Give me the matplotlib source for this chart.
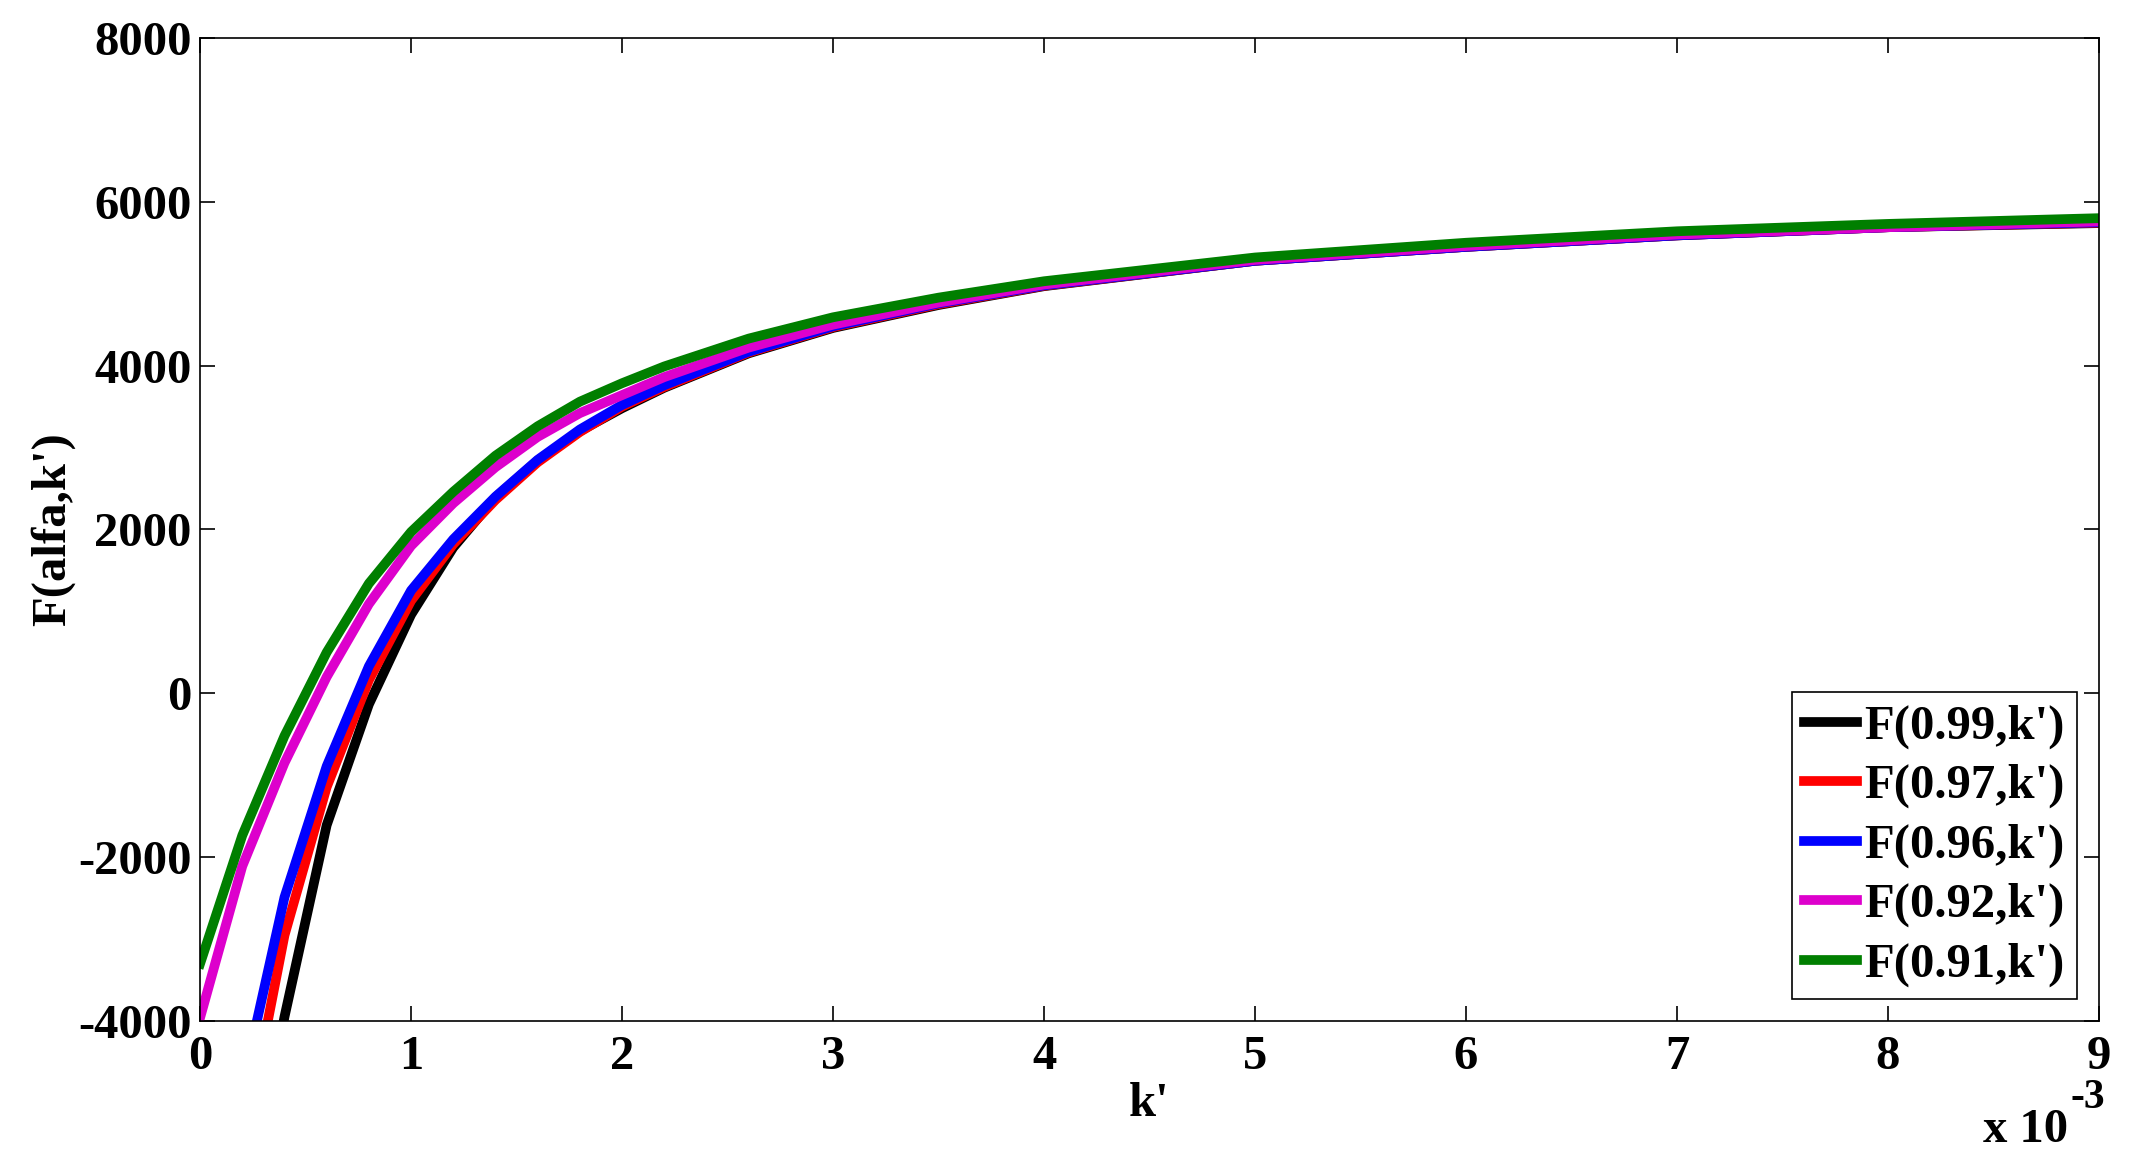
## F(alfa, k') curves for several alfa values ##

import matplotlib
matplotlib.use("Agg")
from matplotlib import pyplot as plt
from matplotlib.ticker import FuncFormatter, MultipleLocator

plt.rcParams["font.family"] = ["Liberation Serif", "DejaVu Serif"]
plt.rcParams["font.weight"] = "bold"
plt.rcParams["axes.unicode_minus"] = False

# k' values (in units of 1e-3)
k_milli = [0, 0.2, 0.4, 0.6, 0.8, 1.0, 1.2, 1.4, 1.6, 1.8, 2.0, 2.2,
           2.6, 3.0, 3.5, 4.0, 5.0, 6.0, 7.0, 8.0, 9.0]
k_vals = [k * 1e-3 for k in k_milli]

f_099 = [-10000, -6700, -3950, -1610, -135, 960, 1780, 2390, 2840, 3200,
         3480, 3730, 4150, 4460, 4740, 4970, 5280, 5450, 5590, 5690, 5740]
f_097 = [-8000, -5600, -2955, -1145, 160, 1130, 1820, 2360, 2820, 3190,
         3500, 3740, 4160, 4470, 4750, 4975, 5280, 5450, 5590, 5690, 5745]
f_096 = [-6500, -4800, -2490, -890, 330, 1255, 1880, 2400, 2850, 3220,
         3520, 3760, 4170, 4480, 4760, 4980, 5280, 5450, 5590, 5690, 5750]
f_092 = [-3960, -2110, -850, 200, 1090, 1800, 2320, 2760, 3130, 3420,
         3640, 3860, 4220, 4500, 4770, 4990, 5290, 5460, 5600, 5690, 5760]
f_091 = [-3300, -1735, -520, 500, 1340, 1970, 2460, 2900, 3260, 3560,
         3785, 3990, 4330, 4590, 4830, 5030, 5320, 5500, 5640, 5730, 5800]

series = [
    (f_099, "k", "F(0.99,k')"),
    (f_097, "#FF0000", "F(0.97,k')"),
    (f_096, "#0000FF", "F(0.96,k')"),
    (f_092, "#DD00CC", "F(0.92,k')"),
    (f_091, "#007F00", "F(0.91,k')"),
]

fig = plt.figure(figsize=(21.4, 11.68), dpi=100)
ax = fig.add_axes([0.0935, 0.1259, 0.8873, 0.8416])

for vals, col, lab in series:
    ax.plot(k_vals, vals, color=col, linewidth=7, label=lab)

ax.set_xlim(0, 9e-3)
ax.set_ylim(-4000, 8000)
ax.xaxis.set_major_locator(MultipleLocator(1e-3))
ax.yaxis.set_major_locator(MultipleLocator(2000))
ax.xaxis.set_major_formatter(FuncFormatter(lambda v, p: f"{v * 1e3:.0f}"))

ax.tick_params(direction="in", top=True, right=True, length=11, width=1.2,
               labelsize=35)
ax.tick_params(axis="x", pad=10)
ax.tick_params(axis="y", pad=6)
for s in ax.spines.values():
    s.set_linewidth(1.2)

ax.set_xlabel("k'", fontsize=35, fontweight="bold", labelpad=2)
ax.set_ylabel("F(alfa,k')", fontsize=35, fontweight="bold", labelpad=2)

# MATLAB-style exponent under the right end of the x axis
ax.text(0.9837, -0.1231, "x 10", transform=ax.transAxes, ha="right",
        va="baseline", fontsize=35)
ax.text(0.9853, -0.0885, "-3", transform=ax.transAxes, ha="left",
        va="baseline", fontsize=30)

leg = ax.legend(loc="lower right", fontsize=35, frameon=True, fancybox=False,
                framealpha=1, edgecolor="k", handlelength=1.1,
                handletextpad=0.15, labelspacing=0.31, borderpad=0.25,
                borderaxespad=0.45)
leg.get_frame().set_linewidth(1.2)

fig.savefig("out.png", dpi=100, facecolor="white")
